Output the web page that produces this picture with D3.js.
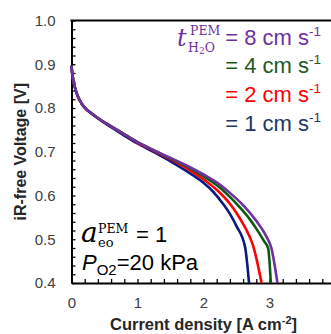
<!DOCTYPE html>
<html><head><meta charset="utf-8">
<script src="https://cdn.jsdelivr.net/npm/d3@7"></script>
<style>html,body{margin:0;padding:0;background:#fff;}svg{display:block;}</style>
</head><body>
<svg id="chart" width="331" height="334"></svg>
<script>
// ---- data ----
const seriesLabels = ["= 8 cm s", "= 4 cm s", "= 2 cm s", "= 1 cm s"];
const seriesColors = ["#7030A0", "#0B5A12", "#FF0000", "#0A1A80"];
const textColors   = ["#7030A0", "#1E5A1E", "#FF0000", "#203864"];

const currentDensity8 = [0, 0.01, 0.025, 0.05, 0.1, 0.15, 0.2, 0.3, 0.45, 0.6, 0.8, 1.0, 1.25, 1.5, 1.75, 2.0, 2.2, 2.4, 2.6, 2.8, 2.95, 3.03, 3.12];
const voltage8        = [0.897, 0.880, 0.865, 0.848, 0.825, 0.811, 0.801, 0.788, 0.772, 0.758, 0.740, 0.722, 0.703, 0.686, 0.668, 0.648, 0.630, 0.606, 0.578, 0.542, 0.507, 0.479, 0.400];

const currentDensity4 = [0, 0.01, 0.025, 0.05, 0.1, 0.15, 0.2, 0.3, 0.45, 0.6, 0.8, 1.0, 1.25, 1.5, 1.75, 2.0, 2.2, 2.4, 2.55, 2.7, 2.81, 2.92, 2.98, 3.02];
const voltage4        = [0.897, 0.880, 0.865, 0.848, 0.825, 0.811, 0.801, 0.788, 0.772, 0.758, 0.740, 0.722, 0.703, 0.685, 0.666, 0.644, 0.624, 0.597, 0.573, 0.546, 0.522, 0.495, 0.479, 0.400];

const currentDensity2 = [0, 0.01, 0.025, 0.05, 0.1, 0.15, 0.2, 0.3, 0.45, 0.6, 0.8, 1.0, 1.25, 1.5, 1.75, 2.0, 2.2, 2.4, 2.5, 2.6, 2.68, 2.75, 2.88];
const voltage2        = [0.897, 0.880, 0.865, 0.848, 0.825, 0.811, 0.801, 0.788, 0.772, 0.758, 0.740, 0.721, 0.702, 0.683, 0.662, 0.637, 0.613, 0.581, 0.560, 0.535, 0.512, 0.486, 0.400];

const currentDensity1 = [0, 0.01, 0.025, 0.05, 0.1, 0.15, 0.2, 0.3, 0.45, 0.6, 0.8, 1.0, 1.25, 1.5, 1.75, 2.0, 2.15, 2.3, 2.4, 2.5, 2.63, 2.69];
const voltage1        = [0.897, 0.880, 0.865, 0.848, 0.825, 0.811, 0.801, 0.788, 0.771, 0.756, 0.737, 0.719, 0.699, 0.678, 0.655, 0.629, 0.608, 0.580, 0.558, 0.530, 0.482, 0.400];

const xTickLabels = ["0", "1", "2", "3", "4"];
const yTickLabels = ["0.4", "0.5", "0.6", "0.7", "0.8", "0.9", "1.0"];

// ---- chart ----
const svg = d3.select("#chart");
const mLeft = 71.5, mRight = 335.5, mTop = 20.5, mBottom = 283;
const x = d3.scaleLinear().domain([0, 4]).range([mLeft, mRight]);
const y = d3.scaleLinear().domain([0.4, 1.0]).range([mBottom, mTop]);

// x axis
const xAxis = d3.axisBottom(x)
  .tickValues(d3.range(0, 21).map(i => i * 0.2))
  .tickSize(-4).tickSizeOuter(0).tickPadding(14)
  .tickFormat((d, i) => (i % 5 === 0 ? xTickLabels[i / 5] : ""));
const gx = svg.append("g").attr("transform", `translate(0,${mBottom})`).call(xAxis);
gx.select(".domain").attr("stroke", "#000").attr("stroke-width", 2);
gx.selectAll(".tick line").attr("stroke", "#000").attr("stroke-width", 1.3);
gx.selectAll(".tick text").attr("font-family", "Arial, 'Liberation Sans', sans-serif").attr("font-size", 15).attr("fill", "#404040");

// y axis
const yAxis = d3.axisLeft(y)
  .tickValues(d3.range(0, 31).map(i => 0.4 + i * 0.02))
  .tickSize(-4).tickSizeOuter(0).tickPadding(16)
  .tickFormat((d, i) => (i % 5 === 0 ? yTickLabels[i / 5] : ""));
const gy = svg.append("g").attr("transform", `translate(${mLeft},0)`).call(yAxis);
gy.select(".domain").attr("stroke", "#000").attr("stroke-width", 2);
gy.selectAll(".tick line").attr("stroke", "#000").attr("stroke-width", 1.3);
gy.selectAll(".tick text").attr("font-family", "Arial, 'Liberation Sans', sans-serif").attr("font-size", 15).attr("fill", "#404040");

// top frame line
svg.append("line").attr("x1", x(0) - 1).attr("x2", x(4)).attr("y1", y(1.0)).attr("y2", y(1.0))
  .attr("stroke", "#000").attr("stroke-width", 2);

// curves (draw 1 first, 8 last on top)
const series = [
  {j: currentDensity8, v: voltage8},
  {j: currentDensity4, v: voltage4},
  {j: currentDensity2, v: voltage2},
  {j: currentDensity1, v: voltage1}
];
const line = d3.line().x(d => x(d[0])).y(d => y(d[1])).curve(d3.curveMonotoneX);
[3, 2, 1, 0].forEach(k => {
  const pts = series[k].j.map((jj, i) => [jj, series[k].v[i]]);
  svg.append("path").attr("d", line(pts)).attr("fill", "none")
    .attr("stroke", seriesColors[k]).attr("stroke-width", 2.6).attr("stroke-linejoin", "round");
});

// axis titles
svg.append("text").attr("x", x(2)).attr("y", 330).attr("text-anchor", "middle")
  .attr("font-family", "Arial, 'Liberation Sans', sans-serif").attr("font-weight", "bold").attr("font-size", 16.5).attr("fill", "#262626")
  .call(t => {
    t.append("tspan").text("Current density [A cm");
    t.append("tspan").attr("font-size", 11).attr("dy", -6).text("-2");
    t.append("tspan").attr("dy", 6).text("]");
  });
svg.append("text").attr("transform", `translate(26,${(mTop + mBottom) / 2}) rotate(-90)`).attr("text-anchor", "middle")
  .attr("font-family", "Arial, 'Liberation Sans', sans-serif").attr("font-weight", "bold").attr("font-size", 16).attr("fill", "#262626")
  .text("iR-free Voltage [V]");

// legend
const serif = "'DejaVu Serif', 'Liberation Serif', serif";
const sans = "Arial, 'Liberation Sans', sans-serif";
const legendY = [45, 73, 102, 131];
seriesLabels.forEach((lab, k) => {
  svg.append("text").attr("x", 321).attr("y", legendY[k]).attr("text-anchor", "end")
    .attr("font-family", sans).attr("font-size", 22).attr("fill", textColors[k])
    .call(t => {
      t.append("tspan").text(lab);
      t.append("tspan").attr("font-size", 13.5).attr("dy", -9).text("-1");
    });
});
svg.append("text").attr("x", 177).attr("y", 46).attr("font-family", serif).attr("font-style", "italic")
  .attr("font-size", 24).attr("fill", textColors[0]).text("t");
svg.append("text").attr("x", 190).attr("y", 35).attr("font-family", serif).attr("font-size", 12.5)
  .attr("fill", textColors[0]).text("PEM");
svg.append("text").attr("x", 188).attr("y", 52).attr("font-family", serif).attr("font-size", 12.5)
  .attr("fill", textColors[0]).call(t => {
    t.append("tspan").text("H");
    t.append("tspan").attr("font-size", 9).attr("dy", 2).text("2");
    t.append("tspan").attr("dy", -2).text("O");
  });

// annotations
svg.append("text").attr("x", 81).attr("y", 242).attr("font-family", serif).attr("font-style", "italic")
  .attr("font-size", 28).attr("fill", "#000").text("a");
svg.append("text").attr("x", 98).attr("y", 233).attr("font-family", serif).attr("font-size", 12.5)
  .attr("fill", "#000").text("PEM");
svg.append("text").attr("x", 98).attr("y", 247).attr("font-family", serif).attr("font-size", 13)
  .attr("fill", "#000").text("eo");
svg.append("text").attr("x", 136).attr("y", 242).attr("font-family", sans).attr("font-size", 22)
  .attr("fill", "#000").text("= 1");
svg.append("text").attr("x", 82).attr("y", 270).attr("font-family", sans).attr("font-size", 22)
  .attr("fill", "#000").call(t => {
    t.append("tspan").attr("font-style", "italic").text("P");
    t.append("tspan").attr("font-size", 15).attr("dy", 5).text("O2");
    t.append("tspan").attr("dy", -5).text("=20 kPa");
  });
</script>
</body></html>
